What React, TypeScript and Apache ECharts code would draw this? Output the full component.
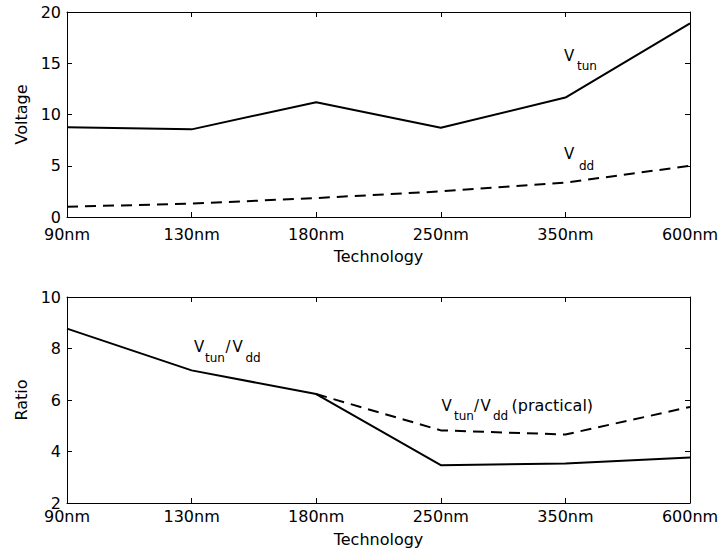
import React, { useEffect, useRef } from "react";
import * as echarts from "echarts";

const technologies = ["90nm", "130nm", "180nm", "250nm", "350nm", "600nm"];
const vTun = [8.75, 8.55, 11.2, 8.7, 11.65, 18.9];
const vDd = [1.0, 1.3, 1.85, 2.5, 3.35, 5.0];
const ratio = [8.77, 7.15, 6.23, 3.47, 3.53, 3.77];
const ratioPractical = [null, null, 6.23, 4.82, 4.66, 5.73];

const FONT = "DejaVu Sans";
const BLACK = "#000";

export default function App() {
  const ref = useRef<HTMLDivElement>(null);
  useEffect(() => {
    if (!ref.current) return;
    document.body.style.margin = "0";
    document.body.style.overflow = "hidden";
    const chart = echarts.init(ref.current, null, { renderer: "svg" });
    const labelStyle = { color: BLACK, fontFamily: FONT, fontSize: 16 };
    const mkX = (gridIndex: number, pos: "bottom" | "top", margin: number, gap: number) => ({
      type: "category",
      gridIndex,
      position: pos,
      data: technologies,
      boundaryGap: false,
      axisLine: { show: true, onZero: false, lineStyle: { color: BLACK, width: 1 } },
      axisTick: { show: true, inside: true, length: 5, lineStyle: { color: BLACK } },
      axisLabel: pos === "bottom" ? { show: true, margin, ...labelStyle } : { show: false },
      splitLine: { show: false },
      name: pos === "bottom" ? "Technology" : "",
      nameLocation: "middle",
      nameGap: gap,
      nameTextStyle: labelStyle,
    });
    const mkY = (gridIndex: number, pos: "left" | "right", min: number, max: number, interval: number, name: string) => ({
      type: "value",
      gridIndex,
      position: pos,
      min,
      max,
      interval,
      axisLine: { show: true, onZero: false, lineStyle: { color: BLACK, width: 1 } },
      axisTick: { show: true, inside: true, length: 5, lineStyle: { color: BLACK } },
      axisLabel: pos === "left" ? { show: true, margin: 6, ...labelStyle } : { show: false },
      splitLine: { show: false },
      name: pos === "left" ? name : "",
      nameLocation: "middle",
      nameGap: 36,
      nameTextStyle: labelStyle,
    });

    const t = (text: string, x: number, y: number, size: number) => ({
      type: "text",
      x,
      y,
      style: {
        text,
        font: `${size}px "${FONT}"`,
        fill: BLACK,
        textAlign: "left",
        textVerticalAlign: "middle",
      },
    });

    chart.setOption({
      animation: false,
      backgroundColor: "#fff",
      grid: [
        { left: 67, right: 32, top: 12, height: 205, containLabel: false },
        { left: 67, right: 32, top: 297, height: 206, containLabel: false },
      ],
      xAxis: [mkX(0, "bottom", 9, 31), mkX(0, "top", 0, 0), mkX(1, "bottom", 5, 28), mkX(1, "top", 0, 0)],
      yAxis: [
        mkY(0, "left", 0, 20, 5, "Voltage"),
        mkY(0, "right", 0, 20, 5, ""),
        mkY(1, "left", 2, 10, 2, "Ratio"),
        mkY(1, "right", 2, 10, 2, ""),
      ],
      series: [
        {
          name: "Vtun", type: "line", xAxisIndex: 0, yAxisIndex: 0, data: vTun,
          showSymbol: false, lineStyle: { color: BLACK, width: 2 },
        },
        {
          name: "Vdd", type: "line", xAxisIndex: 0, yAxisIndex: 0, data: vDd,
          showSymbol: false, lineStyle: { color: BLACK, width: 2, type: [11, 7] },
        },
        {
          name: "Ratio", type: "line", xAxisIndex: 2, yAxisIndex: 2, data: ratio,
          showSymbol: false, lineStyle: { color: BLACK, width: 2 },
        },
        {
          name: "Ratio practical", type: "line", xAxisIndex: 2, yAxisIndex: 2, data: ratioPractical,
          showSymbol: false, connectNulls: false, lineStyle: { color: BLACK, width: 2, type: [11, 7] },
        },
      ],
      graphic: [
        t("V", 564, 55.5, 15),
        t("tun", 577, 65.7, 12),
        t("V", 564, 153.8, 15),
        t("dd", 579, 166.4, 12),
        t("V", 194, 346.8, 15),
        t("tun", 205, 358.1, 12),
        t("/", 225.5, 346.8, 15),
        t("V", 232.5, 346.8, 15),
        t("dd", 245.5, 358.1, 12),
        t("V", 441.5, 405.5, 15),
        t("tun", 454, 415.7, 12),
        t("/", 474, 405.5, 15),
        t("V", 480.5, 405.5, 15),
        t("dd", 493, 415.7, 12),
        t("(practical)", 511.5, 405.2, 16),
      ],
    });
    return () => chart.dispose();
  }, []);
  return <div ref={ref} style={{ position: "fixed", left: 0, top: 0, width: 722, height: 556 }} />;
}
